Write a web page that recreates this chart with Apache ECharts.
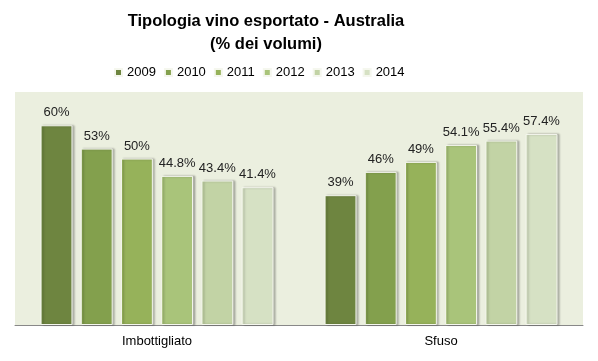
<!DOCTYPE html>
<html>
<head>
<meta charset="utf-8">
<script src="https://cdn.jsdelivr.net/npm/echarts@6/dist/echarts.min.js"></script>
<style>html,body{margin:0;padding:0;background:#fff;}#c{width:598px;height:361px;}</style>
</head>
<body>
<div id="c"></div>
<script>
const categories = ['Imbottigliato', 'Sfuso'];
const years = ['2009', '2010', '2011', '2012', '2013', '2014'];
const v2009 = [60, 39];
const v2010 = [53, 46];
const v2011 = [50, 49];
const v2012 = [44.8, 54.1];
const v2013 = [43.4, 55.4];
const v2014 = [41.4, 57.4];
const seriesValues = [v2009, v2010, v2011, v2012, v2013, v2014];
const colors = ['#6E8540', '#83A04D', '#96B25A', '#A9C47A', '#C2D3A5', '#D6E1C4'];

const chart = echarts.init(document.getElementById('c'));
const font = '"Liberation Sans", Arial, sans-serif';
chart.setOption({
  animation: false,
  color: colors,
  title: {
    text: 'Tipologia vino esportato - Australia\n(% dei volumi)',
    left: 261,
    textAlign: 'center',
    top: 5,
    textStyle: { fontFamily: font, fontSize: 16.5, fontWeight: 'bold', color: '#000', lineHeight: 23 }
  },
  legend: {
    top: 61,
    left: 109,
    itemWidth: 7,
    itemHeight: 7,
    itemGap: 8,
    icon: 'rect',
    textStyle: { fontFamily: font, fontSize: 13, color: '#000' },
    data: years
  },
  grid: {
    left: 15, right: 15, top: 92, bottom: 36,
    show: true, backgroundColor: '#EBEFDF', borderWidth: 0
  },
  xAxis: {
    type: 'category',
    data: categories,
    axisTick: { show: false },
    axisLine: { lineStyle: { color: '#888', width: 1 } },
    axisLabel: { fontFamily: font, fontSize: 13, color: '#000', margin: 10 }
  },
  yAxis: {
    type: 'value', min: 0, max: 70, show: false,
    splitLine: { show: false }
  },
  series: years.map((y, i) => ({
    name: y,
    type: 'bar',
    data: seriesValues[i],
    barGap: '26%',
    barCategoryGap: '18%',
    itemStyle: {
      borderColor: '#F5F7EE', borderWidth: 1,
      shadowColor: 'rgba(0,0,0,0.25)', shadowOffsetX: 2, shadowOffsetY: 0, shadowBlur: 2
    },
    label: {
      show: true, position: 'top', distance: 6,
      formatter: '{c}%',
      fontFamily: font, fontSize: 13, color: '#222'
    }
  }))
});
</script>
</body>
</html>
